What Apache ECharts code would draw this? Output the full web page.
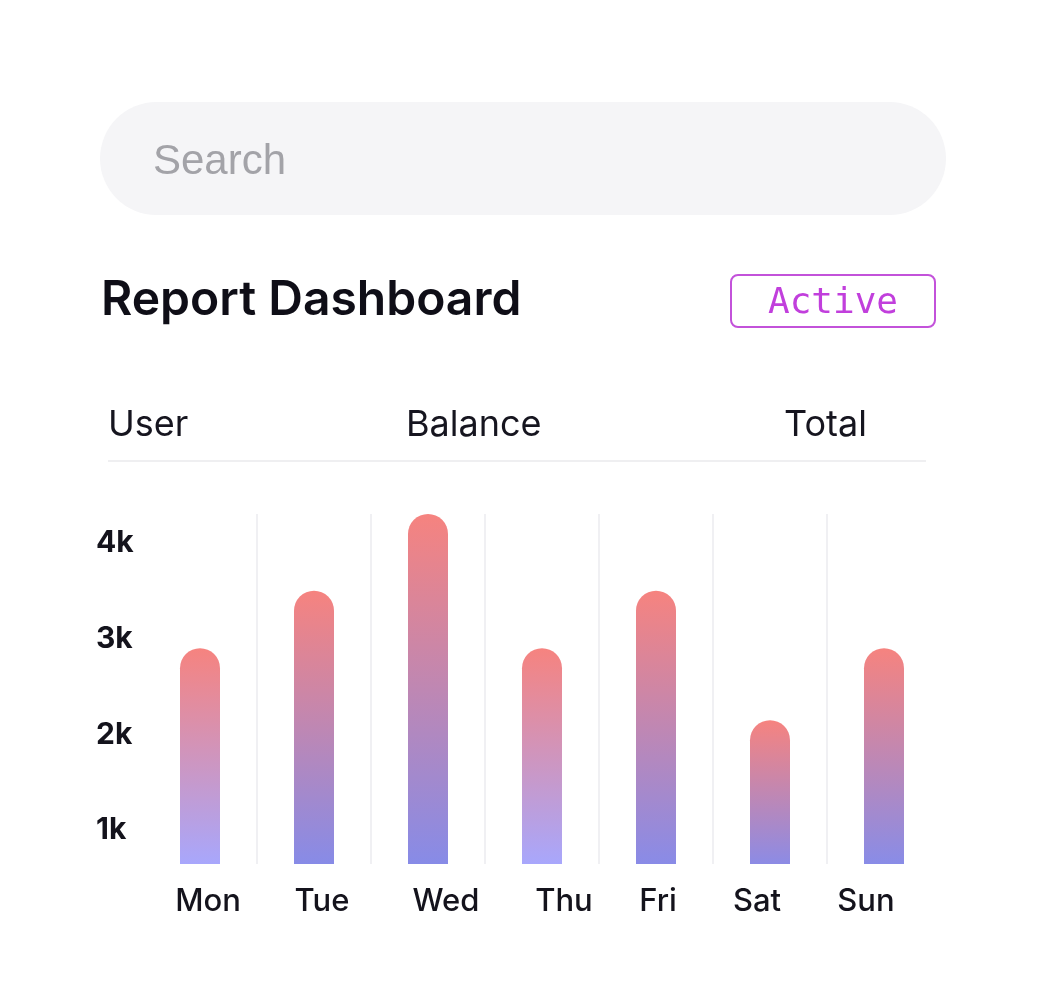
<!DOCTYPE html>
<html>
<head>
<meta charset="utf-8">
<script src="https://cdn.jsdelivr.net/npm/echarts@6/dist/echarts.min.js"></script>
<style>
html,body{margin:0;padding:0;background:#ffffff;}
#chart{width:1060px;height:998px;}
</style>
</head>
<body>
<div id="chart"></div>
<script>
// ---- data ----
const days = ['Mon', 'Tue', 'Wed', 'Thu', 'Fri', 'Sat', 'Sun'];
const balances = [2900, 3500, 4300, 2900, 3500, 2150, 2900];
const yTickValues = [1000, 2000, 3000, 4000];
const headerLabels = ['User', 'Balance', 'Total'];
const titleText = 'Report Dashboard';
const badgeText = 'Active';
const searchPlaceholder = 'Search';

// ---- styles ----
const TOP_COLOR = '#f6837f';
const bottomColors = ['#a8a7fc', '#878be7', '#878be7', '#a8a7fc', '#898be7', '#8c8be5', '#898ce7'];
const labelNudge = [8, 8, 18, 22, 2, -13, -18]; // px shift of day labels
const headerX = [108, 406, 784];

const chart = echarts.init(document.getElementById('chart'), null, {renderer: 'canvas'});

const barData = balances.map((v, i) => ({
  value: v,
  itemStyle: {
    color: new echarts.graphic.LinearGradient(0, 0, 0, 1, [
      {offset: 0, color: TOP_COLOR},
      {offset: 1, color: bottomColors[i]}
    ])
  }
}));

const rich = {};
labelNudge.forEach((n, i) => {
  rich['d' + i] = {
    fontFamily: 'Inter', fontSize: 31, fontWeight: 500, color: '#14131c',
    padding: n >= 0 ? [0, 0, 0, 2 * n] : [0, -2 * n, 0, 0]
  };
});

const graphics = [
  {type: 'rect', shape: {x: 100, y: 102, width: 846, height: 113, r: 56.5}, style: {fill: '#f5f5f7'}},
  {type: 'text', x: 153, y: 162, style: {text: searchPlaceholder, font: '42px "Liberation Sans"', fill: '#a3a3a8', textVerticalAlign: 'middle'}},
  {type: 'text', x: 101, y: 301, style: {text: titleText, font: '600 48px Inter', fill: '#0f0e17', textVerticalAlign: 'middle'}},
  {type: 'rect', shape: {x: 731, y: 275, width: 204, height: 52, r: 7}, style: {fill: 'none', stroke: '#c352da', lineWidth: 2}},
  {type: 'text', x: 833, y: 304, style: {text: badgeText, font: '36px "DejaVu Sans Mono"', fill: '#c13fdc', textAlign: 'center', textVerticalAlign: 'middle'}},
  {type: 'line', shape: {x1: 108, y1: 461, x2: 926, y2: 461}, style: {stroke: '#efeff1', lineWidth: 2}}
];
headerLabels.forEach((t, i) => {
  graphics.push({type: 'text', x: headerX[i], y: 425, style: {text: t, font: '400 36px Inter', fill: '#16151f', textVerticalAlign: 'middle'}});
});

chart.setOption({
  animation: false,
  backgroundColor: '#ffffff',
  grid: {left: 143, right: 119, top: 514, bottom: 134, containLabel: false},
  xAxis: {
    type: 'category',
    data: days,
    boundaryGap: true,
    axisLine: {show: false},
    axisTick: {show: false},
    splitLine: {show: true, showMinLine: false, showMaxLine: false, lineStyle: {color: '#f0f0f3', width: 2}},
    axisLabel: {
      margin: 22,
      formatter: (v, i) => '{d' + i + '|' + v + '}',
      rich: rich
    }
  },
  yAxis: {
    type: 'value',
    min: 650,
    max: 4300,
    axisLine: {show: false},
    axisTick: {show: false},
    splitLine: {show: false},
    axisLabel: {
      customValues: yTickValues,
      align: 'left',
      margin: 47,
      fontFamily: 'Inter',
      fontSize: 30,
      fontWeight: 700,
      color: '#14131c',
      formatter: v => (v / 1000) + 'k'
    }
  },
  series: [{
    type: 'bar',
    data: barData,
    barWidth: 40,
    itemStyle: {borderRadius: [20, 20, 0, 0]}
  }],
  graphic: graphics
});
</script>
</body>
</html>
